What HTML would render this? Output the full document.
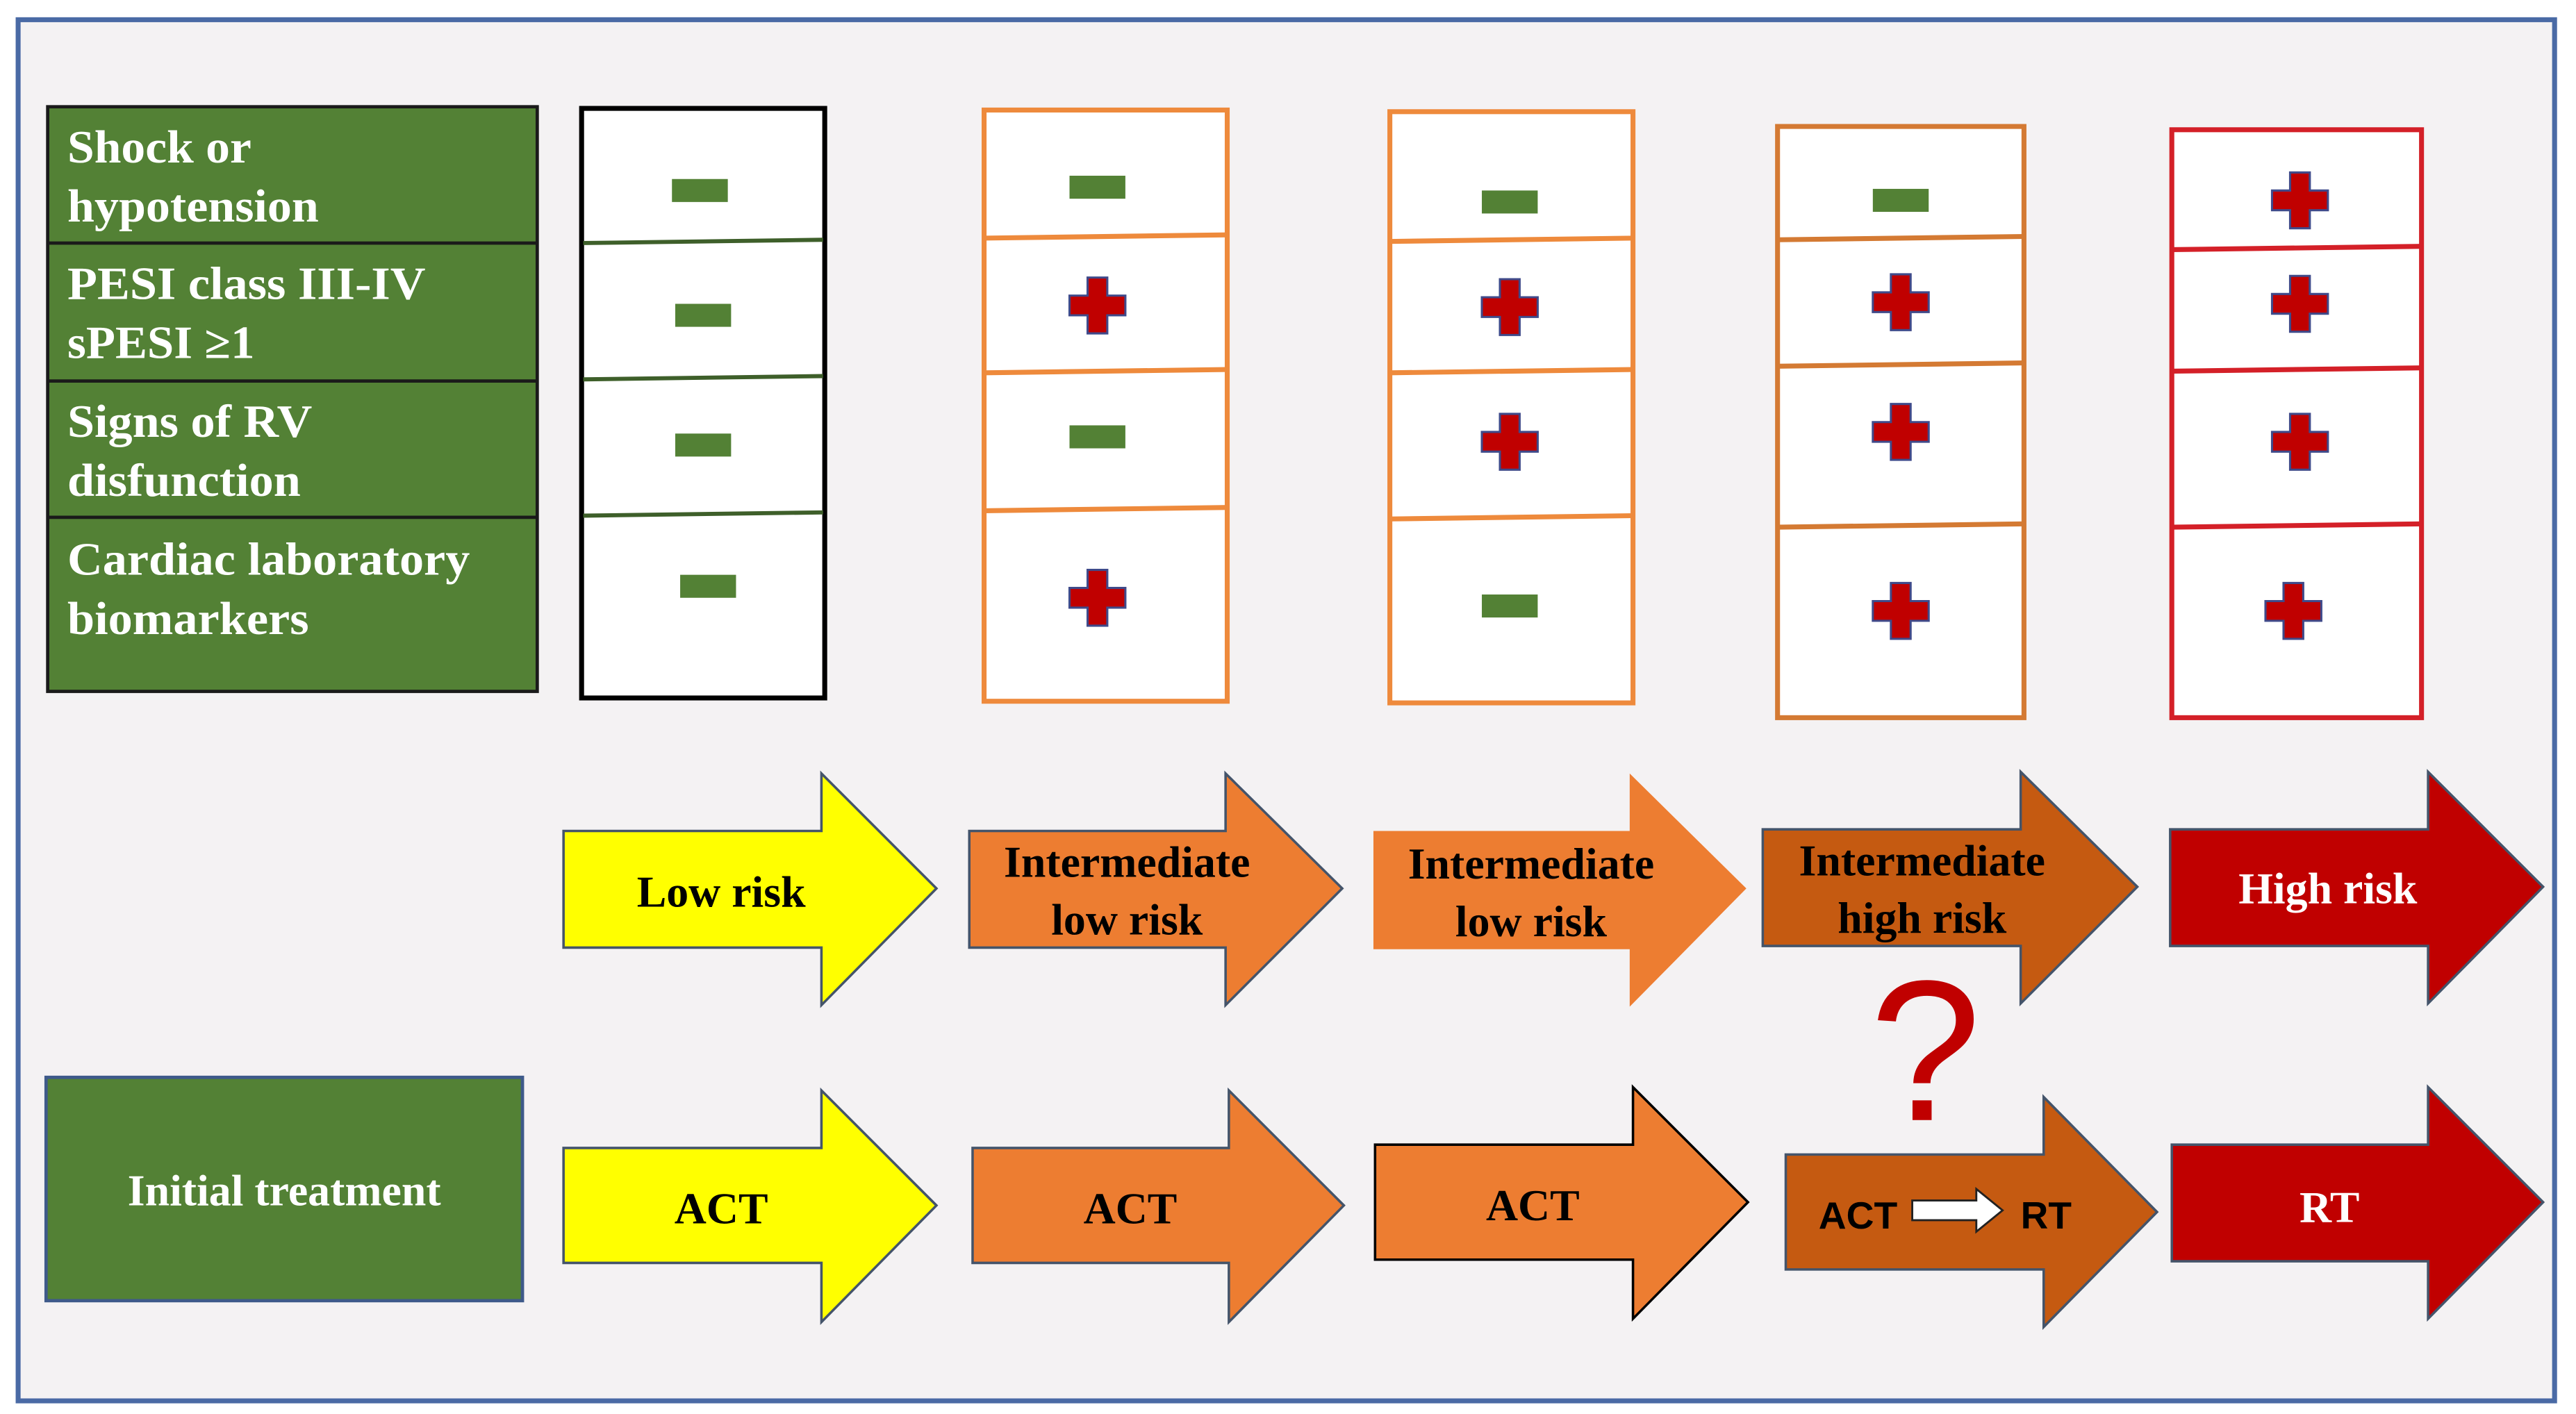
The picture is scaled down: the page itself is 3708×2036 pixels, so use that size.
<!DOCTYPE html>
<html><head><meta charset="utf-8"><style>
html,body{margin:0;padding:0;background:#fff}
svg{display:block}
text{font-family:"Liberation Serif",serif;font-weight:bold}
text.s{font-family:"Liberation Sans",sans-serif}
text.q{font-family:"Liberation Sans",sans-serif;font-weight:normal}
</style></head><body>
<svg width="3708" height="2036" viewBox="0 0 1568 861" xmlns="http://www.w3.org/2000/svg">
<defs>
<g id="p"><path d="M-6,-17 H6 V-6 H17 V6 H6 V17 H-6 V6 H-17 V-6 H-6 Z" fill="#c00000" stroke="#3f4a8a" stroke-width="1.3"/></g>
<g id="m"><rect x="-17" y="-7" width="34" height="14" fill="#538135"/></g>
</defs>
<rect x="0" y="0" width="1568" height="861" fill="#fff"/>
<rect x="11" y="12" width="1544" height="841" fill="#f4f2f3" stroke="#4a6aa5" stroke-width="3"/>

<rect x="29" y="65" width="298" height="356" fill="#538135" stroke="#1a1a1a" stroke-width="2"/>
<g stroke="#1a1a1a" stroke-width="2"><line x1="29" y1="148" x2="327" y2="148"/><line x1="29" y1="232" x2="327" y2="232"/><line x1="29" y1="315" x2="327" y2="315"/></g>
<g fill="#fff" font-size="28">
<text x="41" y="99" textLength="112" lengthAdjust="spacingAndGlyphs">Shock or</text><text x="41" y="135" textLength="153" lengthAdjust="spacingAndGlyphs">hypotension</text>
<text x="41" y="182" textLength="218" lengthAdjust="spacingAndGlyphs">PESI class III-IV</text><text x="41" y="218" textLength="114" lengthAdjust="spacingAndGlyphs">sPESI ≥1</text>
<text x="41" y="266" textLength="149" lengthAdjust="spacingAndGlyphs">Signs of RV</text><text x="41" y="302" textLength="142" lengthAdjust="spacingAndGlyphs">disfunction</text>
<text x="41" y="350" textLength="245" lengthAdjust="spacingAndGlyphs">Cardiac laboratory</text><text x="41" y="386" textLength="147" lengthAdjust="spacingAndGlyphs">biomarkers</text>
</g>

<rect x="354" y="66" width="148" height="359" fill="#fff" stroke="#000" stroke-width="3"/>
<g stroke="#3e5f2a" stroke-width="2.5"><line x1="355" y1="148" x2="501" y2="146"/><line x1="355" y1="231" x2="501" y2="229"/><line x1="355" y1="314" x2="501" y2="312"/></g>
<rect x="599" y="67" width="148" height="360" fill="#fff" stroke="#ee8a3c" stroke-width="3"/>
<g stroke="#ee8a3c" stroke-width="3"><line x1="599" y1="145" x2="747" y2="143"/><line x1="599" y1="227" x2="747" y2="225"/><line x1="599" y1="311" x2="747" y2="309"/></g>
<rect x="846" y="68" width="148" height="360" fill="#fff" stroke="#ee8a3c" stroke-width="3"/>
<g stroke="#ee8a3c" stroke-width="3"><line x1="846" y1="147" x2="994" y2="145"/><line x1="846" y1="227" x2="994" y2="225"/><line x1="846" y1="316" x2="994" y2="314"/></g>
<rect x="1082" y="77" width="150" height="360" fill="#fff" stroke="#d47a33" stroke-width="3"/>
<g stroke="#d47a33" stroke-width="3"><line x1="1082" y1="146" x2="1232" y2="144"/><line x1="1082" y1="223" x2="1232" y2="221"/><line x1="1082" y1="321" x2="1232" y2="319"/></g>
<rect x="1322" y="79" width="152" height="358" fill="#fff" stroke="#d42028" stroke-width="3"/>
<g stroke="#d42028" stroke-width="3"><line x1="1322" y1="152" x2="1474" y2="150"/><line x1="1322" y1="226" x2="1474" y2="224"/><line x1="1322" y1="321" x2="1474" y2="319"/></g>

<use href="#m" x="426" y="116"/><use href="#m" x="428" y="192"/><use href="#m" x="428" y="271"/><use href="#m" x="431" y="357"/>
<use href="#m" x="668" y="114"/><use href="#m" x="668" y="266"/>
<use href="#m" x="919" y="123"/><use href="#m" x="919" y="369"/>
<use href="#m" x="1157" y="122"/>
<use href="#p" x="668" y="186"/><use href="#p" x="668" y="364"/>
<use href="#p" x="919" y="187"/><use href="#p" x="919" y="269"/>
<use href="#p" x="1157" y="184"/><use href="#p" x="1157" y="263"/><use href="#p" x="1157" y="372"/>
<use href="#p" x="1400" y="122"/><use href="#p" x="1400" y="185"/><use href="#p" x="1400" y="269"/><use href="#p" x="1396" y="372"/>

<g stroke="#44546a" stroke-width="1.5">
<polygon points="343,506 500,506 500,471 570,541 500,612 500,577 343,577" fill="#ffff00"/>
<polygon points="590,506 746,506 746,471 817,541 746,612 746,577 590,577" fill="#ed7d31"/>
<polygon points="836,506 992,506 992,471 1063,541 992,613 992,578 836,578" fill="#ed7d31" stroke="none"/>
<polygon points="1073,505 1230,505 1230,470 1301,540 1230,611 1230,576 1073,576" fill="#c55a11"/>
<polygon points="1321,505 1478,505 1478,470 1548,540 1478,611 1478,576 1321,576" fill="#c00000"/>
</g>
<g font-size="27" text-anchor="middle">
<text x="439" y="552">Low risk</text>
<text x="686" y="534">Intermediate</text><text x="686" y="569">low risk</text>
<text x="932" y="535">Intermediate</text><text x="932" y="570">low risk</text>
<text x="1170" y="533">Intermediate</text><text x="1170" y="568">high risk</text>
<text x="1417" y="550" fill="#fff">High risk</text>
</g>
<text class="q" x="1172" y="682" font-size="122" fill="#c00000" text-anchor="middle">?</text>

<rect x="28" y="656" width="290" height="136" fill="#538135" stroke="#3e5a8a" stroke-width="2"/>
<text x="173" y="734" font-size="27" fill="#fff" text-anchor="middle">Initial treatment</text>
<g stroke="#44546a" stroke-width="1.5">
<polygon points="343,699 500,699 500,664 570,734 500,805 500,769 343,769" fill="#ffff00"/>
<polygon points="592,699 748,699 748,664 818,734 748,805 748,769 592,769" fill="#ed7d31"/>
<polygon points="837,697 994,697 994,662 1064,732 994,803 994,767 837,767" fill="#ed7d31" stroke="#000"/>
<polygon points="1087,703 1244,703 1244,668 1313,738 1244,808 1244,773 1087,773" fill="#c55a11"/>
<polygon points="1322,697 1478,697 1478,662 1548,732 1478,803 1478,768 1322,768" fill="#c00000"/>
</g>
<g font-size="27" text-anchor="middle">
<text x="439" y="745">ACT</text>
<text x="688" y="745">ACT</text>
<text x="933" y="743">ACT</text>
<text x="1418" y="744" fill="#fff">RT</text>
</g>
<text class="s" x="1107" y="748" font-size="23" textLength="48" lengthAdjust="spacingAndGlyphs">ACT</text>
<text class="s" x="1230" y="748" font-size="23" textLength="31" lengthAdjust="spacingAndGlyphs">RT</text>
<polygon points="1164,731 1203,731 1203,724 1219,737 1203,750 1203,743 1164,743" fill="#fff" stroke="#222" stroke-width="1.2"/>
</svg>
</body></html>
